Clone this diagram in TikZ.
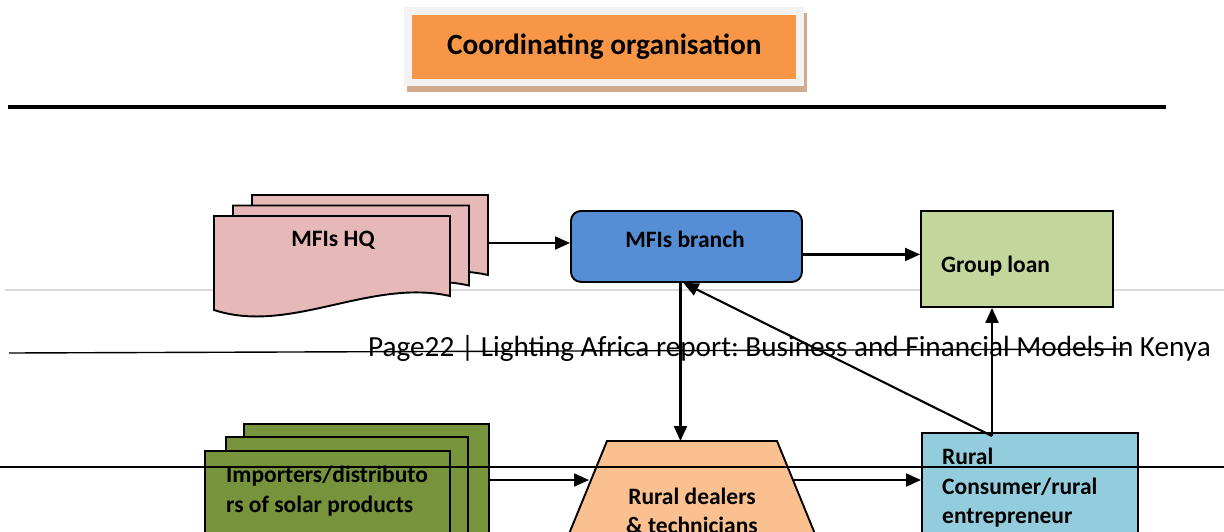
\documentclass[tikz,border=0pt]{standalone}
\usepackage{fontspec}
\setmainfont{Carlito}
\frenchspacing
\usetikzlibrary{arrows.meta,calc}
\definecolor{lfink}{HTML}{000000}
\definecolor{lforange}{HTML}{F79646}
\definecolor{lfframe}{HTML}{F2F2F2}
\definecolor{lfshadow}{HTML}{D2AA8C}
\definecolor{lfpink}{HTML}{E6B9B8}
\definecolor{lfblue}{HTML}{558ED5}
\definecolor{lflime}{HTML}{C3D69B}
\definecolor{lfolive}{HTML}{77933C}
\definecolor{lfpeach}{HTML}{FAC090}
\definecolor{lfcyan}{HTML}{93CDDD}
\definecolor{lfrule}{HTML}{D9D9D9}
\tikzset{
  lf text/.style={font=\fontsize{23.5}{29.5}\selectfont\bfseries, text=lfink},
  lf box/.style={draw=lfink, line width=1.9pt, inner sep=0pt, anchor=north west},
  lf page/.style={draw=lfink, line width=1.9pt},
  lf arrow/.style={-{Triangle[length=15pt,width=13pt]}, line width=2.1pt, draw=lfink},
  lf label/.style={lf text, inner sep=0pt, align=left},
  lf title/.style={font=\fontsize{29.3}{35}\selectfont\bfseries, text=lfink},
  lf footer/.style={font=\fontsize{29.2}{35}\selectfont, text=lfink, inner sep=0pt}
}
\newcommand{\lfdocpage}[2]{%
  \draw[lf page, fill=lfpink] (#1,#2) -- ++(0,94)
    .. controls +(76,25) and +(-80,-18) .. ++(236,-14) -- ++(0,-80) -- cycle;}

\begin{document}
\begin{tikzpicture}[lf text, x=1pt, y=-1pt]
  \useasboundingbox (0,0) rectangle (1224,531);
  \clip (0,0) rectangle (1224,531);
  \fill[lfshadow] (407,13) rectangle (807,92);
  \node[fill=lfframe, minimum width=400, minimum height=79, inner sep=0pt, anchor=north west] (coordframe) at (404,7) {};
  \node[lf title, fill=lforange, minimum width=384, minimum height=64, inner sep=0pt] (coord) at (coordframe.center) {Coordinating organisation};
  \draw[line width=4.5pt] (8,107) -- (1166,107);
  \draw[lfrule, line width=2pt] (5,290) -- (1224,290);
  \lfdocpage{252}{195}
  \lfdocpage{233}{205.5}
  \lfdocpage{214}{216}
  \node[lf label] (hqtext) at (333,240) {MFIs HQ};
  \node[lf box, fill=lfblue, rounded corners=10pt, minimum width=231, minimum height=71] (branch) at (570,210) {};
  \node[lf label] (branchtext) at (685,239) {MFIs branch};
  \node[lf box, fill=lflime, minimum width=192, minimum height=96] (grouploan) at (920,210) {};
  \node[lf label, anchor=west] (grouploantext) at (941,266) {Group loan};
  \node[lf box, fill=lfolive, minimum width=245, minimum height=140] (impback) at (243,423) {};
  \node[lf box, fill=lfolive, minimum width=242, minimum height=140] (impmid) at (225,436) {};
  \node[lf box, fill=lfolive, minimum width=245, minimum height=140] (imp) at (204,450) {};
  \node[lf label, anchor=west] (imptext) at (226,491) {Importers/distributo\\rs of solar products};
  \draw[lf page, fill=lfpeach] (607,441) coordinate (dealerstop) -- (777,441) -- (822,551) -- (562,551) -- cycle;
  \coordinate (dealersin) at (589,480);
  \coordinate (dealersout) at (793,480);
  \node[lf label, align=center] (dealers) at (692,511) {Rural dealers\\\& technicians};
  \node[lf box, fill=lfcyan, minimum width=216, minimum height=130] (consumer) at (921,432) {};
  \node[lf label, anchor=west] (consumertext) at (942,488) {Rural\\Consumer/rural\\entrepreneur};
  \coordinate (hqedge) at (488,243);
  \coordinate (cusp) at (992,436);
  \coordinate (impedge) at (488,480);
  \draw[lf arrow] (hqedge) -- (hqedge -| branch.west);
  \draw[lf arrow] ([yshift=-8pt]branch.east) -- ([yshift=-8pt]branch.east -| grouploan.west);
  \draw[lf arrow] ([xshift=-6pt]branch.south) -- ([xshift=-6pt]branch.south |- dealerstop);
  \draw[lf arrow] (cusp) -- ([xshift=-3pt]branch.south);
  \draw[lf arrow] (cusp) -- (cusp |- grouploan.south);
  \draw[lf arrow] (impedge) -- (dealersin);
  \draw[lf arrow] (dealersout) -- (dealersout -| consumer.west);
  \node[lf footer, anchor=base west] (footer) at (368,356) {Page22 | Lighting Africa report: Business and Financial Models in Kenya};
  \draw[line width=1.4pt] (9,353) -- (1128,349);
  \draw[line width=2pt] (0,467) -- (1224,467);
\end{tikzpicture}
\end{document}
